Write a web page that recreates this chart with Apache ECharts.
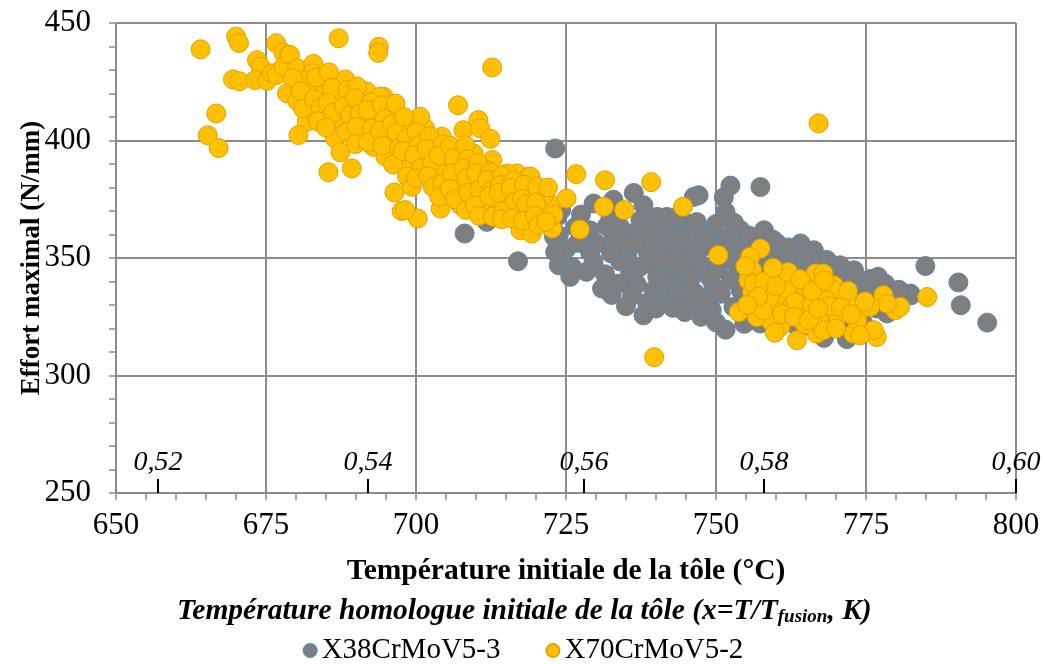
<!DOCTYPE html>
<html>
<head>
<meta charset="utf-8">
<script src="https://cdn.jsdelivr.net/npm/echarts@6/dist/echarts.min.js"></script>
<style>
html,body{margin:0;padding:0;background:#fff;}
#chart{width:1046px;height:664px;}
</style>
</head>
<body>
<div id="chart"></div>
<script>
// ---- Data ----
var seriesNames = ['X38CrMoV5-3', 'X70CrMoV5-2'];
var xTitle = 'Température initiale de la tôle (°C)';
var yTitle = 'Effort maximal (N/mm)';
var homologueTitleMain = 'Température homologue initiale de la tôle (x=T/T';
var homologueTitleSub = 'fusion';
var homologueTitleEnd = ', K)';
// secondary (homologous temperature) scale: position in °C and its label
var secTickTemps = [657, 692, 728, 758, 800];
var secTickLabels = ['0,52', '0,54', '0,56', '0,58', '0,60'];

// X38CrMoV5-3 : [temperature °C, effort N/mm]
var grayPoints = [
[723.2,396.6],[736.3,377.7],[752.4,380.8],[757.4,380.2],[747.1,376.7],[751.3,375.8],[751.6,369.6],[746.3,376.0],
[708.1,360.4],[711.8,365.4],[732.9,374.8],[729.6,373.2],[737.9,372.5],[724.2,370.4],[726.6,363.2],[729.0,361.8],
[730.1,356.2],[723.8,359.7],[725.1,354.0],[723.2,352.6],[717.0,348.6],[723.8,346.9],[726.0,346.2],[725.7,342.0],
[728.4,344.1],[729.6,348.3],[731.5,343.1],[732.6,334.3],[733.8,339.1],[737.9,325.6],[735.2,350.5],[735.7,360.4],
[732.4,366.8],[737.4,366.1],[740.2,367.5],[742.4,363.2],[745.2,364.7],[739.1,359.0],[741.8,354.7],[745.2,353.3],
[738.5,347.7],[735.7,343.4],[740.2,342.0],[743.0,343.4],[745.7,344.8],[739.6,336.3],[741.3,333.4],[744.1,333.4],
[746.8,330.6],[734.0,363.2],[734.6,354.7],
[746.8,365.3],[741.8,367.5],[744.1,359.0],[749.1,361.8],[754.1,361.8],[758.0,361.8],[760.2,356.2],[764.1,356.2],
[766.3,353.3],[768.5,349.1],[770.7,346.9],[773.0,344.8],[742.4,346.2],[746.3,349.1],[751.3,349.1],[745.2,339.1],
[749.6,337.7],[741.8,333.4],[749.3,327.8],[751.6,319.5],[752.9,329.2],[754.1,336.3],[755.8,323.5],[757.4,322.1],
[769.6,320.7],[772.4,317.1],[771.3,324.9],
[784.9,346.6],[790.4,339.6],[790.8,329.9],[795.2,322.5],[782.4,334.9],[779.9,333.4],[775.7,341.1],[777.9,337.0],
[772.9,342.0],[768.2,349.1],[771.8,317.8],[778.5,326.4],[754.7,322.0],[771.8,315.5],[779.7,330.4],[782.5,334.1],
[723.0,359.0],[723.5,367.5],
[736.5,356.0],[737.2,346.0],[736.8,338.8],[738.6,352.5],[738.0,362.8],[739.5,356.2],[740.6,350.0],[741.0,361.0],
[741.5,338.2],[742.5,357.5],[743.0,350.5],[743.5,337.0],[743.8,368.0],[744.6,346.8],[745.0,357.8],[746.0,342.0],
[746.5,335.2],[747.3,353.5],[747.6,359.0],[748.0,346.0],[748.4,332.0],[749.0,341.5],[749.4,355.0],[750.0,364.5],
[750.3,345.0],[750.8,334.8],[751.8,358.5],[752.2,353.5],[752.5,341.0],[753.0,365.0],[753.6,347.0],[754.0,357.0],
[754.8,352.0],[755.5,359.5],[756.2,348.0],[757.0,355.0],[757.8,344.0],[758.5,349.5],[759.5,357.8],[760.0,351.0],
[761.2,347.0],[762.0,354.5],[762.8,343.5],[763.5,349.0],[764.8,345.5],[765.5,350.5],[766.8,340.0],[767.5,346.0],
[768.8,338.0],[770.0,342.5],[771.5,338.5],[773.8,336.0],[774.5,333.0],[775.5,337.5],[776.5,333.5],[777.0,342.0],
[778.2,339.0],[780.5,336.5],[764.5,339.0],[762.0,331.0],[766.0,320.5],[774.5,322.5],[776.8,328.5],[758.5,328.0],
[760.5,332.5],[763.0,322.0],[768.0,316.0],[747.5,325.0],[750.0,322.6],[744.8,327.0],[731.0,337.0],[729.0,352.5],
[727.0,356.5],[733.0,358.5],[731.8,363.5],[727.5,368.5],[734.0,348.5],[732.5,352.0],[736.0,334.0],[738.5,331.0],
[740.0,328.5],[742.8,328.8],[735.0,329.5]
];

// X70CrMoV5-2 : [temperature °C, effort N/mm]
var yellowPoints = [
[664.1,438.8],[670.0,444.2],[670.5,441.5],[669.5,426.0],[670.6,425.2],[666.7,411.5],[665.3,402.2],[667.1,396.8],
[676.7,441.4],[677.9,437.4],[678.8,436.4],[673.5,434.2],[674.1,431.4],[673.2,425.7],[675.2,425.4],[676.0,428.6],
[676.8,427.9],[677.9,431.4],[679.0,436.4],[680.2,430.7],[682.9,432.6],[682.7,428.6],[681.8,425.7],[685.2,425.0],
[688.2,426.0],[687.1,443.5],[693.8,439.9],[693.7,437.3],
[678.5,420.1],[680.2,416.8],[681.8,422.9],[684.6,420.1],[687.7,418.0],[682.7,411.5],[681.8,408.0],[680.4,402.3],
[686.5,400.9],[687.4,395.0],[685.4,386.5],[689.3,388.1],[687.4,418.6],[687.1,409.4],[689.6,406.2],[692.9,397.3],
[694.9,393.1],[694.6,418.6],[696.3,411.5],[695.4,400.9],[696.4,377.9],[697.6,370.0],[690.7,415.8],[692.1,410.1],
[691.3,401.6],[693.5,412.9],[691.8,420.8],[694.0,418.6],
[698.8,405.8],[701.5,405.2],[700.7,410.1],[695.7,401.6],[704.3,401.6],[707.9,404.4],[710.4,408.7],[710.7,405.2],
[712.4,400.7],[698.5,391.7],[702.4,394.5],[706.6,395.2],[712.7,391.7],[698.5,384.6],[699.3,380.3],[700.3,366.8],
[704.1,388.8],[706.8,390.2],[704.1,378.9],[704.1,371.0],[707.7,381.0],[707.4,372.5],[709.9,374.6],[711.8,387.4],
[711.3,370.4],[713.5,374.6],[715.0,377.5],[716.8,386.0],[718.8,384.6],[716.3,370.4],[718.8,378.9],[719.6,366.1],
[721.6,376.0],[722.7,372.2],[720.7,370.4],[722.7,362.6],[719.0,361.8],[709.6,394.5],[711.8,381.7],[714.6,373.2],
[707.0,415.0],[712.7,431.1],[698.2,370.4],
[725.1,375.3],[726.7,385.7],[731.5,383.1],[739.2,382.3],[731.3,371.8],[734.7,370.4],[744.5,371.8],[727.3,362.1],
[739.7,307.8],[767.1,407.3],[715.2,386.0],[719.1,384.6],[721.3,376.7],[717.4,361.8],[719.3,360.4],
[679.5,426.5],[680.8,421.0],[681.2,413.5],
[683.4,426.8],[683.0,417.5],[684.1,414.0],[683.6,408.2],
[685.5,429.0],[686.0,422.5],[685.3,416.0],[686.2,411.8],[685.0,405.5],
[688.6,421.5],[688.0,414.5],[689.0,410.7],[688.4,403.6],
[690.2,423.0],[689.8,418.0],[690.6,411.5],[690.1,405.8],[689.9,398.5],
[692.5,416.2],[691.9,413.0],[692.6,405.0],[692.0,399.2],
[694.3,415.0],[694.8,409.1],[694.0,404.2],[694.4,397.8],
[696.6,415.7],[696.0,407.0],[696.8,403.5],[697.2,396.8],[696.2,389.8],
[698.0,410.0],[698.5,401.0],[697.8,395.5],
[700.1,403.5],[700.5,398.0],[699.7,393.8],[700.9,388.2],[700.0,384.0],
[702.2,401.8],[701.8,396.5],[702.7,390.0],[702.0,384.8],[702.8,380.2],
[704.5,398.3],[703.8,393.6],[704.9,385.6],[704.4,381.7],[703.9,376.0],
[705.7,397.8],[706.3,392.4],[706.0,386.0],[705.6,379.5],[706.5,375.0],
[708.2,398.0],[708.6,392.0],[707.9,388.0],[708.4,384.2],[708.8,377.8],[708.3,370.5],
[710.3,390.4],[710.0,386.0],[710.6,379.2],[709.8,372.3],[710.5,368.0],
[712.3,386.4],[711.9,383.3],[712.6,378.6],[712.2,376.3],[712.8,367.6],
[714.3,385.0],[714.0,381.0],[713.8,377.8],[714.6,369.8],[714.3,366.5],
[716.2,382.8],[715.8,379.8],[716.5,374.0],[716.0,366.8],
[718.0,381.2],[717.7,375.2],[718.4,372.8],[717.8,365.8],
[720.2,380.4],[720.0,373.5],[719.8,368.0],[720.4,364.0],
[722.0,380.0],[722.9,368.3],[721.7,365.5],
[750.4,351.2],[757.4,354.0],[755.7,350.5],[756.0,344.8],[755.4,340.5],[756.0,335.6],[753.8,327.0],[757.4,330.6],
[759.6,329.2],[760.2,342.0],[762.7,339.6],[758.4,336.3],[760.8,334.9],[764.1,333.4],[766.3,333.4],[766.6,343.4],
[767.9,343.4],[769.6,338.4],[768.5,334.2],[771.5,333.4],[773.5,329.2],[764.1,327.8],[768.5,326.4],[770.2,324.9],
[761.3,323.5],[760.7,320.7],[763.5,315.0],[766.8,317.8],[767.9,319.3],[772.9,317.8],[765.2,326.4],[762.7,329.9],
[759.0,323.5],[756.8,324.9],
[785.2,333.4],[779.9,327.8],[780.7,329.2],[777.9,334.2],[778.5,330.6],[775.7,329.2],[774.0,327.8],[773.5,323.5],
[776.8,316.4],[776.3,319.3],[774.0,317.1],[771.8,331.9],[769.6,336.3],[770.2,326.4],[768.5,331.9],
[754.9,346.5],[756.3,339.0],[758.9,333.0],[761.8,336.8],[763.2,331.2],[765.0,337.5],[761.0,326.0],[764.8,321.8],
[757.8,327.6],[769.0,329.5],[772.0,336.0],[766.0,330.0],[759.8,318.2],
[758.0,340.0],[760.0,338.0],[762.0,344.0],[764.0,341.0],[766.0,336.0],[768.0,340.5],[770.8,329.0],[772.5,326.0],
[774.8,331.5],[763.0,325.0],[765.5,323.5],[767.0,328.5],[770.0,320.0],[757.0,333.5],[755.2,330.0],[759.5,345.8]
];

// ---- Chart ----
var chart = echarts.init(document.getElementById('chart'), null, {renderer: 'canvas'});
var FONT = '"Liberation Serif", "Times New Roman", serif';
var GRID = '#8c8c8c';

var option = {
  animation: false,
  backgroundColor: '#ffffff',
  textStyle: {fontFamily: FONT, color: '#000'},
  grid: {left: 116, right: 30, top: 23, bottom: 171, containLabel: false},
  title: {
    left: 172, top: 590,
    text: '{a|' + homologueTitleMain + '}{b|' + homologueTitleSub + '}{a|' + homologueTitleEnd + '}',
    textStyle: {
      rich: {
        a: {fontFamily: FONT, fontSize: 29.5, fontWeight: 'bold', fontStyle: 'italic', color: '#000', lineHeight: 32, verticalAlign: 'middle'},
        b: {fontFamily: FONT, fontSize: 19, fontWeight: 'bold', fontStyle: 'italic', color: '#000', lineHeight: 32, verticalAlign: 'bottom', padding: [14, 0, 0, 0]}
      }
    }
  },
  legend: {
    top: 631, left: 'center',
    itemWidth: 13, itemHeight: 13, itemGap: 45,
    textStyle: {fontFamily: FONT, fontSize: 29, color: '#000'},
    data: [
      {name: seriesNames[0], icon: 'circle'},
      {name: seriesNames[1], icon: 'circle'}
    ]
  },
  xAxis: [
    {
      type: 'value', min: 650, max: 800, interval: 25,
      name: xTitle, nameLocation: 'middle', nameGap: 63, nameMoveOverlap: false,
      nameTextStyle: {fontFamily: FONT, fontSize: 29.5, fontWeight: 'bold', color: '#000'},
      axisLine: {show: true, lineStyle: {color: GRID, width: 2}},
      axisTick: {show: true, inside: false, length: 7, lineStyle: {color: GRID, width: 1.5}},
      minorTick: {show: true, splitNumber: 5, length: 7, lineStyle: {color: GRID, width: 1.5}},
      axisLabel: {fontFamily: FONT, fontSize: 31, color: '#000', margin: 17},
      splitLine: {show: true, lineStyle: {color: GRID, width: 2}}
    },
    {
      type: 'value', min: 650, max: 800, position: 'bottom',
      axisLine: {show: false},
      splitLine: {show: false},
      axisTick: {show: true, inside: true, length: 14, customValues: secTickTemps, lineStyle: {color: '#000', width: 2}},
      axisLabel: {
        show: true, inside: true, margin: 16, customValues: secTickTemps,
        showMinLabel: true, showMaxLabel: true,
        fontFamily: FONT, fontSize: 28, fontStyle: 'italic', color: '#000',
        formatter: function (v) {
          var i = secTickTemps.indexOf(v);
          return i >= 0 ? secTickLabels[i] : '';
        }
      }
    }
  ],
  yAxis: {
    type: 'value', min: 250, max: 450, interval: 50,
    name: yTitle, nameLocation: 'middle', nameGap: 70, nameMoveOverlap: false,
    nameTextStyle: {fontFamily: FONT, fontSize: 27, fontWeight: 'bold', color: '#000'},
    axisLine: {show: true, lineStyle: {color: GRID, width: 2}},
    axisTick: {show: true, inside: false, length: 7, lineStyle: {color: GRID, width: 1.5}},
    minorTick: {show: true, splitNumber: 5, length: 7, lineStyle: {color: GRID, width: 1.5}},
    axisLabel: {fontFamily: FONT, fontSize: 31, color: '#000', margin: 25},
    splitLine: {show: true, lineStyle: {color: GRID, width: 2}}
  },
  series: [
    {
      name: seriesNames[0], type: 'scatter', xAxisIndex: 0, yAxisIndex: 0,
      symbol: 'circle', symbolSize: 19,
      itemStyle: {color: '#7f7f7f', borderColor: '#5a86ad', borderWidth: 1, opacity: 1},
      data: grayPoints
    },
    {
      name: seriesNames[1], type: 'scatter', xAxisIndex: 0, yAxisIndex: 0,
      symbol: 'circle', symbolSize: 19,
      itemStyle: {color: '#ffc000', borderColor: '#e0a200', borderWidth: 1, opacity: 1},
      data: yellowPoints
    }
  ]
};
chart.setOption(option);
</script>
</body>
</html>
